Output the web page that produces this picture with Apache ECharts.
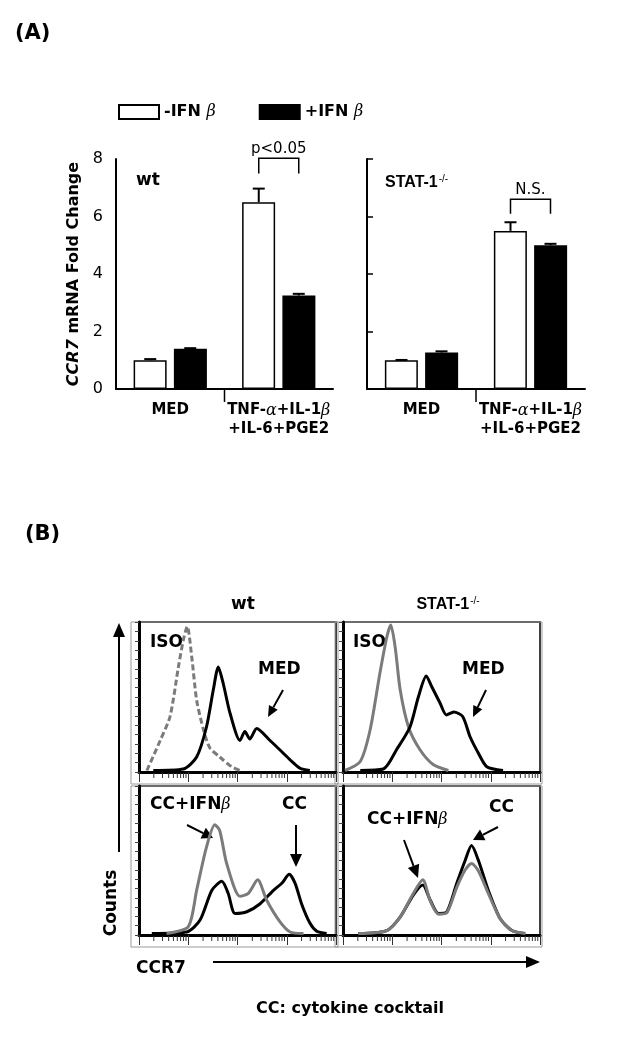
<!DOCTYPE html>
<html>
<head>
<meta charset="utf-8">
<script src="https://cdn.jsdelivr.net/npm/echarts@6/dist/echarts.min.js"></script>
<style>
html, body { margin: 0; padding: 0; background: #fff; }
#chart { width: 624px; height: 1050px; }
</style>
</head>
<body>
<div id="chart"></div>
<script>
// (A) CCR7 mRNA fold change
const categories = ['MED', 'TNF-α+IL-1β\n+IL-6+PGE2'];
const wtMinus = [1.0, 6.5];
const wtPlus = [1.4, 3.25];
const wtMinusErr = [0.04, 0.47];
const wtPlusErr = [0.02, 0.06];
const statMinus = [1.0, 5.5];
const statPlus = [1.27, 5.0];
const statMinusErr = [0.01, 0.3];
const statPlusErr = [0.04, 0.05];
const sigLabels = ['p<0.05', 'N.S.'];
const sigTop = [8.03, 6.6];
const sigLow = [7.5, 6.1];

// (B) flow histograms: [log decade, % of max count]
const isoWt = [[0.16,1],[0.43,21],[0.63,37],[0.80,70],[0.90,88],[0.98,97],[1.07,77],[1.17,48],[1.31,28],[1.44,16],[1.64,10],[1.88,3.5],[2.05,1]];
const medWt = [[0.29,1],[0.9,2],[1.17,10],[1.37,30],[1.51,55],[1.61,70],[1.71,59],[1.85,39],[2.05,21],[2.15,27],[2.25,22],[2.39,29],[2.66,21],[2.90,13.5],[3.07,8],[3.27,2.5],[3.47,1]];
const isoStat = [[0.04,1],[0.35,7],[0.55,28],[0.75,66],[0.89,90],[0.97,98],[1.06,83],[1.16,55],[1.33,30],[1.56,15],[1.83,5],[2.14,1]];
const medStat = [[0.35,1],[0.82,2],[1.09,15],[1.36,30],[1.53,50],[1.69,64],[1.80,57],[1.97,46],[2.10,38],[2.25,40],[2.43,37],[2.58,23.5],[2.75,12.5],[2.92,3.5],[3.25,1]];
const ccWt = [[0.26,1],[0.97,2],[1.24,10],[1.48,30],[1.68,36],[1.81,28],[1.95,14.5],[2.19,15.6],[2.46,21],[2.73,30],[2.90,34.7],[3.05,40.7],[3.17,34.7],[3.30,21],[3.47,8],[3.61,2.5],[3.81,1]];
const ccIfnWt = [[0.56,1],[1.0,5.6],[1.17,30],[1.37,59],[1.54,74],[1.64,70],[1.78,48],[2.05,26],[2.22,28],[2.41,37],[2.59,23.5],[2.86,9],[3.07,2],[3.34,1]];
const ccStat = [[0.31,1],[0.89,3],[1.16,12],[1.43,27],[1.62,33.6],[1.77,23.5],[1.94,14.5],[2.11,15.6],[2.31,34.7],[2.48,50],[2.61,60],[2.75,50],[2.95,30],[3.19,11],[3.43,3],[3.70,1]];
const ccIfnStat = [[0.31,1],[0.89,3],[1.16,12],[1.43,28],[1.62,37],[1.77,23],[1.94,14],[2.11,15],[2.31,32],[2.48,43.6],[2.61,48],[2.75,43],[2.95,28],[3.19,11],[3.43,3],[3.70,1]];

const FONT = 'DejaVu Sans';
const GRAY = '#7b7b7b';
const barShift = 20; // half of bar width + gap

// log minor ticks 2..9 per decade
const minorTicks = [];
for (let n = 0; n < 4; n++) for (let k = 2; k <= 9; k++) minorTicks.push([n + Math.log10(k)]);

const histBoxes = [
    { left: 139, top: 622, width: 197, height: 150 },
    { left: 343, top: 622, width: 197, height: 150 },
    { left: 139, top: 786, width: 197, height: 149 },
    { left: 343, top: 786, width: 197, height: 149 }
];

const greek = { fontStyle: 'italic', fontWeight: 'normal', fontFamily: 'DejaVu Serif', fontSize: 16 };

let chartDom = document.getElementById('chart');
let myChart = echarts.init(chartDom);

function errorSeries(idx, vals, errs, shift) {
    return {
        type: 'custom', xAxisIndex: idx, yAxisIndex: idx, z: 5, silent: true,
        data: vals.map((v, i) => [i, v, v + errs[i]]),
        renderItem: function (params, api) {
            const base = api.coord([api.value(0), api.value(1)]);
            const top = api.coord([api.value(0), api.value(2)]);
            const x = base[0] + shift;
            return {
                type: 'group', children: [
                    { type: 'line', shape: { x1: x, y1: base[1], x2: x, y2: top[1] }, style: { stroke: '#000', lineWidth: 2 } },
                    { type: 'line', shape: { x1: x - 6, y1: top[1], x2: x + 6, y2: top[1] }, style: { stroke: '#000', lineWidth: 2 } }
                ]
            };
        }
    };
}

function bracketSeries(idx) {
    return {
        type: 'custom', xAxisIndex: idx, yAxisIndex: idx, z: 5, silent: true,
        data: [[1, sigTop[idx], sigLow[idx]]],
        renderItem: function (params, api) {
            const t = api.coord([api.value(0), api.value(1)]);
            const l = api.coord([api.value(0), api.value(2)]);
            const x1 = t[0] - barShift, x2 = t[0] + barShift;
            // divider tick between the two groups
            const c0 = api.coord([0, 0]), c1 = api.coord([1, 0]);
            const mid = (c0[0] + c1[0]) / 2;
            return {
                type: 'group', children: [
                    { type: 'polyline', shape: { points: [[x1, l[1]], [x1, t[1]], [x2, t[1]], [x2, l[1]]] }, style: { stroke: '#000', lineWidth: 1.5, fill: 'none' } },
                    { type: 'text', x: t[0], y: t[1] - 2, style: { text: sigLabels[idx], align: 'center', verticalAlign: 'bottom', font: '15px ' + FONT, fill: '#000' } },
                    { type: 'line', shape: { x1: mid, y1: c0[1], x2: mid, y2: c0[1] + 13 }, style: { stroke: '#000', lineWidth: 1.5 } }
                ]
            };
        }
    };
}

function minorTickSeries(idx) {
    return {
        type: 'custom', xAxisIndex: idx, yAxisIndex: idx, silent: true,
        data: minorTicks,
        renderItem: function (params, api) {
            const p = api.coord([api.value(0), 0]);
            return { type: 'line', shape: { x1: p[0], y1: p[1] + 1, x2: p[0], y2: p[1] + 6 }, style: { stroke: '#333', lineWidth: 1 } };
        }
    };
}

function histLine(idx, data, color, dashed) {
    return {
        type: 'line', xAxisIndex: idx, yAxisIndex: idx, data: data,
        showSymbol: false, silent: true, smooth: 0.25,
        lineStyle: { color: color, width: 3, type: dashed ? [6, 3] : 'solid' }
    };
}

function arrow(x1, y1, x2, y2, len, half) {
    const a = Math.atan2(y2 - y1, x2 - x1);
    const bx = x2 - len * Math.cos(a), by = y2 - len * Math.sin(a);
    const px = -Math.sin(a) * half, py = Math.cos(a) * half;
    return [
        { type: 'line', shape: { x1: x1, y1: y1, x2: bx, y2: by }, style: { stroke: '#000', lineWidth: 2 } },
        { type: 'polygon', shape: { points: [[x2, y2], [bx + px, by + py], [bx - px, by - py]] }, style: { fill: '#000' } }
    ];
}

function label(text, x, y, size, align, rich) {
    return {
        type: 'text', x: x, y: y,
        style: { text: text, align: align || 'left', verticalAlign: 'middle', fontFamily: FONT, fontWeight: 'bold', fontSize: size, fill: '#000', rich: rich }
    };
}

const supRich = { s: { fontSize: 10, fontWeight: 'normal', verticalAlign: 'top', padding: [0, 0, 8, 1] }, g: greek };

const barX = (left) => ({
    gridIndex: left, type: 'category', data: categories,
    axisLine: { lineStyle: { color: '#000', width: 2 } },
    axisTick: { show: false },
    axisLabel: {
        interval: 0, hideOverlap: false,
        color: '#000', fontFamily: FONT, fontWeight: 'bold', fontSize: 15, margin: 12, lineHeight: 19,
        formatter: v => v.replace(/([αβ])/g, '{g|$1}'),
        rich: { g: greek }
    }
});

let option = {
    animation: false,
    textStyle: { fontFamily: FONT },
    legend: {
        left: 118, top: 104, padding: 0,
        itemWidth: 40, itemHeight: 14, itemGap: 43, icon: 'rect',
        data: ['-IFN β', '+IFN β'],
        formatter: n => n.replace('β', '{g|β}'),
        textStyle: { fontFamily: FONT, fontWeight: 'bold', fontSize: 16, color: '#000', rich: { g: greek } }
    },
    grid: [
        { left: 116, top: 159, width: 217, height: 230 },
        { left: 367, top: 159, width: 218, height: 230 }
    ].concat(histBoxes.map(b => Object.assign({ show: true, borderColor: '#000', borderWidth: 1.5 }, b))),
    xAxis: [barX(0), barX(1)].concat(histBoxes.map((b, i) => ({
        gridIndex: i + 2, type: 'value', min: 0, max: 4, interval: 1,
        axisLine: { lineStyle: { color: '#000', width: 3 } },
        axisTick: { inside: false, length: 10, lineStyle: { color: '#333', width: 1 } },
        axisLabel: { show: false }, splitLine: { show: false }
    }))),
    yAxis: [
        {
            gridIndex: 0, type: 'value', min: 0, max: 8, interval: 2,
            name: '{i|CCR7} mRNA Fold Change', nameLocation: 'middle', nameGap: 34, nameRotate: 90,
            nameTextStyle: { color: '#000', fontFamily: FONT, fontWeight: 'bold', fontSize: 16, rich: { i: { fontStyle: 'italic', fontWeight: 'bold', fontSize: 16 } } },
            axisLine: { show: true, lineStyle: { color: '#000', width: 2 } },
            axisTick: { show: false },
            axisLabel: { color: '#000', fontSize: 16, margin: 13 },
            splitLine: { show: false }
        },
        {
            gridIndex: 1, type: 'value', min: 0, max: 8, interval: 2,
            axisLine: { show: true, lineStyle: { color: '#000', width: 2 } },
            axisTick: { show: true, inside: true, length: 6, lineStyle: { color: '#000', width: 1.5 } },
            axisLabel: { show: false }, splitLine: { show: false }
        }
    ].concat(histBoxes.map((b, i) => ({
        gridIndex: i + 2, type: 'value', min: 0, max: 100, interval: 6.25,
        axisLine: { show: true, lineStyle: { color: '#000', width: 3 } },
        axisTick: { show: true, inside: false, length: 4, lineStyle: { color: '#444', width: 1 } },
        axisLabel: { show: false }, splitLine: { show: false }
    }))),
    series: [
        { name: '-IFN β', type: 'bar', xAxisIndex: 0, yAxisIndex: 0, data: wtMinus, barWidth: 33, barGap: '22%', itemStyle: { color: '#fff', borderColor: '#000', borderWidth: 1.5 } },
        { name: '+IFN β', type: 'bar', xAxisIndex: 0, yAxisIndex: 0, data: wtPlus, barWidth: 33, barGap: '22%', itemStyle: { color: '#000', borderColor: '#000', borderWidth: 1.5 } },
        { name: '-IFN β', type: 'bar', xAxisIndex: 1, yAxisIndex: 1, data: statMinus, barWidth: 33, barGap: '22%', itemStyle: { color: '#fff', borderColor: '#000', borderWidth: 1.5 } },
        { name: '+IFN β', type: 'bar', xAxisIndex: 1, yAxisIndex: 1, data: statPlus, barWidth: 33, barGap: '22%', itemStyle: { color: '#000', borderColor: '#000', borderWidth: 1.5 } },
        errorSeries(0, wtMinus, wtMinusErr, -barShift),
        errorSeries(0, wtPlus, wtPlusErr, barShift),
        errorSeries(1, statMinus, statMinusErr, -barShift),
        errorSeries(1, statPlus, statPlusErr, barShift),
        bracketSeries(0),
        bracketSeries(1),
        minorTickSeries(2), minorTickSeries(3), minorTickSeries(4), minorTickSeries(5),
        histLine(2, isoWt, GRAY, true),
        histLine(2, medWt, '#000'),
        histLine(3, isoStat, GRAY),
        histLine(3, medStat, '#000'),
        histLine(4, ccWt, '#000'),
        histLine(4, ccIfnWt, GRAY),
        histLine(5, ccStat, '#000'),
        histLine(5, ccIfnStat, GRAY)
    ],
    graphic: {
        elements: [].concat(
            histBoxes.map(b => ({
                type: 'rect', shape: { x: b.left - 8, y: b.top, width: b.width + 10, height: b.height + 12 },
                style: { fill: 'none', stroke: '#9a9a9a', lineWidth: 1 }, silent: true
            })),
            [
                label('(A)', 15, 34, 21),
                label('(B)', 25, 535, 21),
                label('wt', 136, 181, 17),
                label('{b|STAT-1}{s|-/-}', 385, 183, 16, 'left', Object.assign({ b: { fontSize: 16, fontWeight: 'bold' } }, supRich)),
                label('wt', 243, 605, 17, 'center'),
                label('{b|STAT-1}{s|-/-}', 448, 605, 16, 'center', Object.assign({ b: { fontSize: 16, fontWeight: 'bold' } }, supRich)),
                label('ISO', 150, 643, 17),
                label('MED', 258, 670, 17),
                label('ISO', 353, 643, 17),
                label('MED', 462, 670, 17),
                label('CC+IFN{g|β}', 150, 805, 17, 'left', { g: greek }),
                label('CC', 282, 805, 17),
                label('CC+IFN{g|β}', 367, 820, 17, 'left', { g: greek }),
                label('CC', 489, 808, 17),
                label('CCR7', 136, 969, 17),
                label('CC: cytokine cocktail', 350, 1009, 16, 'center'),
                { type: 'text', x: 112, y: 903, rotation: Math.PI / 2,
                  style: { text: 'Counts', align: 'center', verticalAlign: 'middle', fontFamily: FONT, fontWeight: 'bold', fontSize: 17, fill: '#000' } }
            ],
            arrow(283, 690, 268, 717, 11, 5),
            arrow(486, 690, 473, 717, 11, 5),
            arrow(187, 825, 213, 838, 11, 6),
            arrow(296, 825, 296, 867, 13, 6),
            arrow(404, 840, 418, 878, 13, 6),
            arrow(498, 827, 473, 840, 11, 6),
            arrow(119, 852, 119, 623, 14, 6),
            arrow(213, 962, 540, 962, 14, 6)
        )
    }
};

option && myChart.setOption(option);
window.addEventListener('resize', myChart.resize);
</script>
</body>
</html>
